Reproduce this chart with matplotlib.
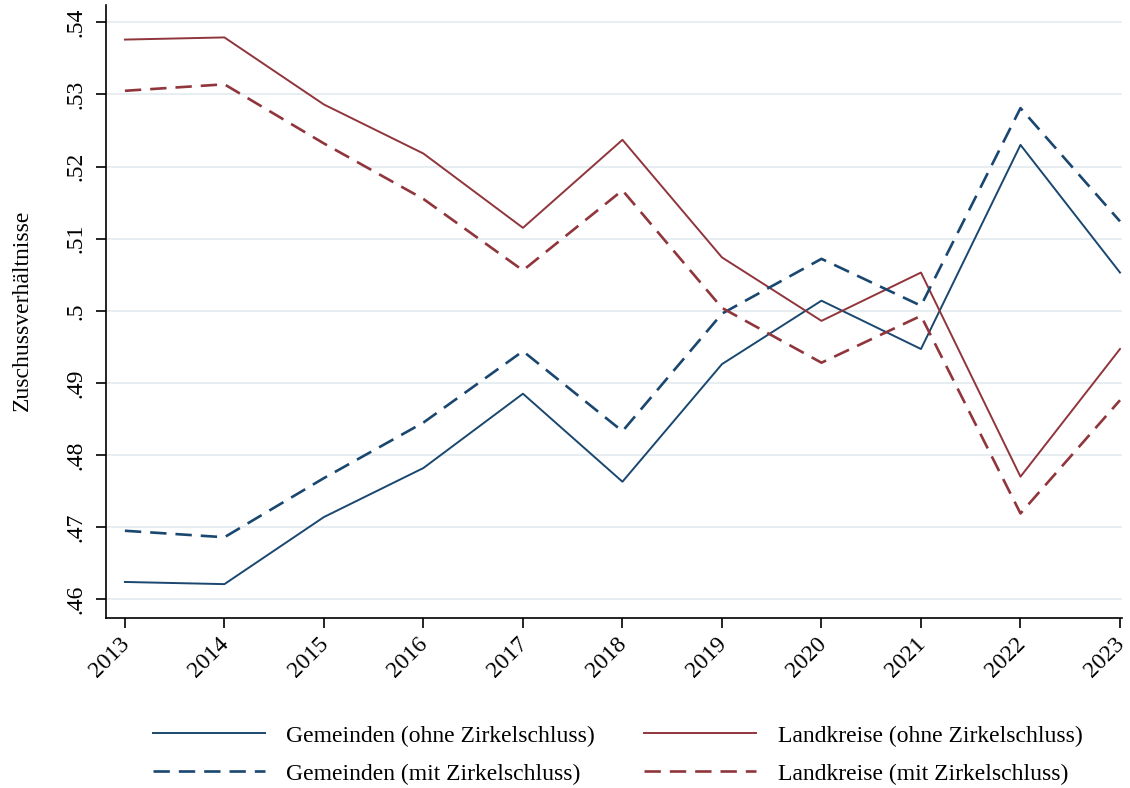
import matplotlib
matplotlib.use("Agg")
import matplotlib.pyplot as plt
import matplotlib.transforms as mtransforms

years = [2013, 2014, 2015, 2016, 2017, 2018, 2019, 2020, 2021, 2022, 2023]
gem_ohne = [0.4624, 0.4621, 0.4714, 0.4782, 0.4885, 0.4763, 0.4926, 0.5014, 0.4947, 0.5230, 0.5053]
land_ohne = [0.5376, 0.5379, 0.5286, 0.5218, 0.5115, 0.5237, 0.5074, 0.4986, 0.5053, 0.4770, 0.4947]
gem_mit = [0.4695, 0.4686, 0.4768, 0.4845, 0.4944, 0.4833, 0.4996, 0.5072, 0.5007, 0.5281, 0.5124]
land_mit = [0.5305, 0.5314, 0.5232, 0.5155, 0.5056, 0.5167, 0.5004, 0.4928, 0.4993, 0.4719, 0.4876]
yticks = [0.46, 0.47, 0.48, 0.49, 0.50, 0.51, 0.52, 0.53, 0.54]
ytick_labels = [".46", ".47", ".48", ".49", ".5", ".51", ".52", ".53", ".54"]

plt.rcParams['font.family'] = ['Liberation Serif', 'DejaVu Serif']

blue = '#1a476f'
red = '#90353b'

fig = plt.figure(figsize=(11.3, 7.88), dpi=100)
ax = fig.add_axes([0.0938, 0.2157, 0.8991, 0.778])

h1, = ax.plot(years, gem_ohne, color=blue, lw=1.4, label='Gemeinden (ohne Zirkelschluss)')
h2, = ax.plot(years, land_ohne, color=red, lw=1.4, label='Landkreise (ohne Zirkelschluss)')
h3, = ax.plot(years, gem_mit, color=blue, lw=1.9, dashes=(6.2, 3.4), label='Gemeinden (mit Zirkelschluss)')
h4, = ax.plot(years, land_mit, color=red, lw=1.9, dashes=(6.2, 3.4), label='Landkreise (mit Zirkelschluss)')

ax.set_xlim(2012.81, 2023.02)
ax.set_ylim(0.4574, 0.5424)
ax.set_yticks(yticks)
ax.set_yticklabels(ytick_labels, rotation=90, va='center', fontsize=17)
ax.set_xticks(years)
ax.set_xticklabels([str(y) for y in years], rotation=45, ha='right', rotation_mode='anchor', fontsize=17)
ax.tick_params(axis='both', direction='out', length=7, width=1.2, color='black')
ax.tick_params(axis='y', pad=7)
ax.tick_params(axis='x', pad=4)
ax.grid(axis='y', color='#e6eef1', lw=1.4)
ax.set_axisbelow(True)
for s in ['top', 'right']:
    ax.spines[s].set_visible(False)
for s in ['left', 'bottom']:
    ax.spines[s].set_linewidth(1.2)
ax.set_ylabel('Zuschussverhältnisse', fontsize=17)
ax.yaxis.set_label_coords(-0.072, 0.502)

offset = mtransforms.ScaledTranslation(-6 / 100, 0, fig.dpi_scale_trans)
for tick in ax.xaxis.get_major_ticks():
    tick.label1.set_transform(tick.label1.get_transform() + offset)

leg = fig.legend([h1, h3, h2, h4],
                 [h.get_label() for h in (h1, h3, h2, h4)], ncol=2,
                 loc='center', bbox_to_anchor=(0.5465, 0.042), frameon=False,
                 fontsize=17, handlelength=4.75, columnspacing=2.1, handletextpad=0.9,
                 labelspacing=0.7)

fig.savefig('out.png', dpi=100, facecolor='white')
